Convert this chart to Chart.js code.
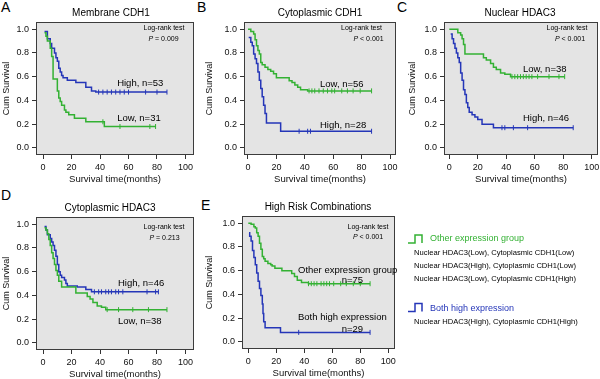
<!DOCTYPE html>
<html>
<head>
<meta charset="utf-8">
<script src="https://cdn.jsdelivr.net/npm/chart.js@4.4.1/dist/chart.umd.min.js"></script>
<style>
    html, body { margin: 0; padding: 0; background: #fff; }
    body { width: 600px; height: 379px; position: relative; overflow: hidden; font-family: "Liberation Sans", Arial, sans-serif; }
    canvas { position: absolute; }
    .tag { position: absolute; font-size: 14px; line-height: 14px; color: #000; }
</style>
</head>
<body>
<div class="tag" style="left:1px;top:0px">A</div>
<div class="tag" style="left:197px;top:0px">B</div>
<div class="tag" style="left:397px;top:0px">C</div>
<div class="tag" style="left:1px;top:188px">D</div>
<div class="tag" style="left:201px;top:198px">E</div>
<canvas id="cA"></canvas>
<canvas id="cB"></canvas>
<canvas id="cC"></canvas>
<canvas id="cD"></canvas>
<canvas id="cE"></canvas>
<script>
// axis ticks
const timeTicks = [0, 20, 40, 60, 80, 100];
const survTicks = [0, 0.2, 0.4, 0.6, 0.8, 1.0];

// A - Membrane CDH1
const aHighT = [1, 3, 5, 6, 8, 9, 10, 11, 12, 13, 14, 17, 23, 30, 34, 37, 87];
const aHighS = [0.98, 0.92, 0.88, 0.84, 0.80, 0.76, 0.73, 0.67, 0.64, 0.61, 0.59, 0.57, 0.55, 0.51, 0.48, 0.47, 0.47];
const aHighCens = [39, 42, 45, 48, 51, 54, 57, 60, 72, 80, 87];
const aLowT = [1, 2, 3, 5, 6, 7, 10, 11, 12, 13, 15, 16, 18, 22, 30, 43, 79];
const aLowS = [0.97, 0.94, 0.90, 0.84, 0.77, 0.58, 0.48, 0.42, 0.39, 0.36, 0.32, 0.30, 0.28, 0.25, 0.22, 0.18, 0.18];
const aLowCens = [42, 54, 75, 79];

// B - Cytoplasmic CDH1
const bLowT = [0, 2, 4, 5, 6, 7, 8, 9, 10, 12, 14, 16, 18, 20, 29, 31, 33, 35, 37, 42, 87];
const bLowS = [1.0, 0.98, 0.96, 0.91, 0.86, 0.82, 0.79, 0.72, 0.70, 0.68, 0.66, 0.645, 0.625, 0.59, 0.565, 0.55, 0.53, 0.51, 0.49, 0.48, 0.48];
const bLowCens = [43, 45, 47, 50, 53, 56, 59, 61, 66, 70, 74, 79, 87];
const bHighT = [0.5, 2, 3, 4, 5, 6, 7, 8, 9, 10, 11, 12, 13, 23, 87];
const bHighS = [0.93, 0.89, 0.86, 0.79, 0.75, 0.71, 0.64, 0.57, 0.50, 0.43, 0.36, 0.29, 0.21, 0.14, 0.14];
const bHighCens = [36, 42, 44, 87];

// C - Nuclear HDAC3
const cLowT = [0, 6, 8, 9, 10, 11, 24, 26, 29, 31, 33, 36, 39, 43, 81];
const cLowS = [1.0, 0.97, 0.95, 0.92, 0.87, 0.79, 0.76, 0.74, 0.71, 0.68, 0.66, 0.63, 0.62, 0.60, 0.60];
const cLowCens = [44, 46, 48, 50, 52, 54, 56, 58, 62, 70, 77, 81];
const cHighT = [1, 2, 3, 4, 5, 6, 7, 8, 9, 10, 11, 12, 13, 14, 16, 18, 20, 23, 31, 87];
const cHighS = [0.96, 0.92, 0.88, 0.84, 0.80, 0.76, 0.72, 0.63, 0.57, 0.49, 0.45, 0.38, 0.34, 0.30, 0.28, 0.26, 0.24, 0.20, 0.17, 0.17];
const cHighCens = [37, 39, 45, 55, 87];

// D - Cytoplasmic HDAC3
const dHighT = [1, 2, 3, 5, 6, 7, 8, 9, 10, 11, 12, 13, 15, 16, 17, 24, 30, 34, 81];
const dHighS = [0.98, 0.95, 0.91, 0.88, 0.85, 0.82, 0.78, 0.73, 0.66, 0.60, 0.57, 0.55, 0.53, 0.50, 0.48, 0.47, 0.45, 0.43, 0.43];
const dHighCens = [36, 39, 41, 44, 46, 48, 51, 53, 56, 73, 79, 81];
const dLowT = [1, 2, 3, 4, 5, 6, 7, 8, 9, 10, 11, 13, 23, 31, 33, 35, 38, 41, 44, 87];
const dLowS = [0.97, 0.95, 0.92, 0.87, 0.82, 0.76, 0.71, 0.66, 0.61, 0.57, 0.52, 0.47, 0.42, 0.39, 0.37, 0.34, 0.31, 0.30, 0.28, 0.28];
const dLowCens = [45, 53, 63, 74, 87];

// E - High Risk Combinations
const eOtherT = [0, 2, 4, 5, 6, 7, 8, 9, 10, 11, 12, 14, 16, 17, 19, 24, 31, 33, 35, 38, 43, 87];
const eOtherS = [1.0, 0.99, 0.97, 0.96, 0.92, 0.89, 0.83, 0.78, 0.72, 0.70, 0.68, 0.66, 0.65, 0.64, 0.62, 0.60, 0.575, 0.55, 0.52, 0.50, 0.49, 0.49];
const eOtherCens = [43, 45, 47, 49, 52, 54, 56, 58, 61, 66, 70, 75, 80, 87];
const eBothT = [0.5, 1, 2, 3, 4, 5, 6, 7, 8, 9, 10, 10.5, 11, 12, 23, 87];
const eBothS = [0.92, 0.89, 0.85, 0.77, 0.71, 0.65, 0.58, 0.51, 0.45, 0.39, 0.32, 0.24, 0.17, 0.12, 0.08, 0.08];
const eBothCens = [36, 87];

const otherGroupRows = ['Nuclear HDAC3(Low), Cytoplasmic CDH1(Low)', 'Nuclear HDAC3(High), Cytoplasmic CDH1(Low)', 'Nuclear HDAC3(Low), Cytoplasmic CDH1(High)'];
const bothGroupRows = ['Nuclear HDAC3(High), Cytoplasmic CDH1(High)'];

const GREEN = '#33b133';
const BLUE = '#2536b8';
const FONT = '"Liberation Sans", Arial, sans-serif';

const panels = [
    {
        id: 'cA', title: 'Membrane CDH1', titleX: 111, box: { l: 36, r: 194, t: 22, b: 155 }, xr: [-5, 106], yOff: 29,
        curves: [[aLowT, aLowS, aLowCens, GREEN], [aHighT, aHighS, aHighCens, BLUE]],
        lr: { x: 164, y: 28, x2: 163.5, y2: 39, p: ' = 0.009' },
        notes: [['High, n=53', 52, 0.546], ['Low, n=31', 52, 0.252]]
    },
    {
        id: 'cB', title: 'Cytoplasmic CDH1', titleX: 320, box: { l: 244, r: 396, t: 22, b: 155 }, xr: [-2.8, 104.2], yOff: 34,
        curves: [[bLowT, bLowS, bLowCens, GREEN], [bHighT, bHighS, bHighCens, BLUE]],
        lr: { x: 361.5, y: 28, x2: 368.5, y2: 39, p: ' < 0.001' },
        notes: [['Low, n=56', 50.7, 0.538], ['High, n=28', 50.7, 0.193]]
    },
    {
        id: 'cC', title: 'Nuclear HDAC3', titleX: 520, box: { l: 444, r: 598, t: 22, b: 155 }, xr: [-3.7, 104.4], yOff: 31,
        curves: [[cLowT, cLowS, cLowCens, GREEN], [cHighT, cHighS, cHighCens, BLUE]],
        lr: { x: 567, y: 28, x2: 570, y2: 39, p: ' < 0.001' },
        notes: [['Low, n=38', 51.7, 0.664], ['High, n=46', 51.7, 0.249]]
    },
    {
        id: 'cD', title: 'Cytoplasmic HDAC3', titleX: 110, box: { l: 36, r: 194, t: 217, b: 350 }, xr: [-5, 106], yOff: 29,
        curves: [[dLowT, dLowS, dLowCens, GREEN], [dHighT, dHighS, dHighCens, BLUE]],
        lr: { x: 164, y: 227, x2: 164.5, y2: 238, p: ' = 0.213' },
        notes: [['High, n=46', 52.6, 0.502], ['Low, n=38', 52.6, 0.178]]
    },
    {
        id: 'cE', title: 'High Risk Combinations', titleX: 318, box: { l: 242, r: 395, t: 216, b: 349 }, xr: [-4.5, 104.8], yOff: 32, padR: 205,
        curves: [[eOtherT, eOtherS, eOtherCens, GREEN], [eBothT, eBothS, eBothCens, BLUE]],
        lr: { x: 368, y: 227, x2: 368, y2: 237, p: ' < 0.001' },
        notes: [['Other expression group', 35.5, 0.605], ['n=75', 66.7, 0.52], ['Both high expression', 35.5, 0.203], ['n=29', 66.7, 0.108]],
        legend: true
    }
];

function stepPoints(t, s) {
    return t.map((v, i) => ({ x: v, y: s[i] }));
}

// survival level of the step curve at time x
function levelAt(t, s, x) {
    let v = s[0];
    for (let i = 0; i < t.length; i++) {
        if (t[i] <= x) v = s[i];
    }
    return v;
}

function censorPoints(t, s, c) {
    return c.map(x => ({ x: x, y: levelAt(t, s, x) }));
}

function stepIcon(ctx, x, b, color) {
    ctx.strokeStyle = color;
    ctx.lineWidth = 1.5;
    ctx.beginPath();
    ctx.moveTo(x, b);
    ctx.lineTo(x + 7, b);
    ctx.lineTo(x + 7, b - 8);
    ctx.lineTo(x + 14, b - 8);
    ctx.lineTo(x + 14, b);
    ctx.stroke();
}

function makeDecor(p, offX, offY) {
    return {
        id: 'decor' + p.id,
        beforeDraw(chart) {
            const { ctx, chartArea: a } = chart;
            ctx.save();
            ctx.fillStyle = '#e4e4e4';
            ctx.fillRect(a.left, a.top, a.right - a.left, a.bottom - a.top);
            ctx.strokeStyle = '#3c3c3c';
            ctx.lineWidth = 1;
            ctx.strokeRect(Math.round(a.left) + 0.5, Math.round(a.top) + 0.5, Math.round(a.right - a.left) - 1, Math.round(a.bottom - a.top) - 1);
            ctx.restore();
        },
        afterDraw(chart) {
            const { ctx, scales } = chart;
            ctx.save();
            ctx.fillStyle = '#000';
            ctx.textBaseline = 'middle';

            // title
            ctx.textAlign = 'center';
            ctx.font = '10px ' + FONT;
            ctx.fillText(p.title, p.titleX - offX, p.box.t - 9 - offY);

            // log-rank box text
            ctx.font = '7px ' + FONT;
            ctx.fillText('Log-rank test', p.lr.x - offX, p.lr.y - offY);
            ctx.font = 'italic 7px ' + FONT;
            const wP = ctx.measureText('P').width;
            ctx.font = '7px ' + FONT;
            const wRest = ctx.measureText(p.lr.p).width;
            const x0 = p.lr.x2 - offX - (wP + wRest) / 2;
            ctx.textAlign = 'left';
            ctx.font = 'italic 7px ' + FONT;
            ctx.fillText('P', x0, p.lr.y2 - offY);
            ctx.font = '7px ' + FONT;
            ctx.fillText(p.lr.p, x0 + wP, p.lr.y2 - offY);

            // curve labels
            ctx.font = '9.5px ' + FONT;
            p.notes.forEach(n => {
                ctx.fillText(n[0], scales.x.getPixelForValue(n[1]), scales.y.getPixelForValue(n[2]));
            });

            // group legend on the right of panel E
            if (p.legend) {
                stepIcon(ctx, 408 - offX, 243 - offY, GREEN);
                ctx.fillStyle = GREEN;
                ctx.font = '9px ' + FONT;
                ctx.fillText('Other expression group', 430 - offX, 238.5 - offY);
                ctx.fillStyle = '#000';
                ctx.font = '7.6px ' + FONT;
                otherGroupRows.forEach((r, i) => ctx.fillText(r, 414 - offX, 253 + i * 13 - offY));
                stepIcon(ctx, 408 - offX, 311.5 - offY, BLUE);
                ctx.fillStyle = BLUE;
                ctx.font = '9px ' + FONT;
                ctx.fillText('Both high expression', 430 - offX, 309 - offY);
                ctx.fillStyle = '#000';
                ctx.font = '7.6px ' + FONT;
                bothGroupRows.forEach((r, i) => ctx.fillText(r, 414 - offX, 322 + i * 13 - offY));
            }
            ctx.restore();
        }
    };
}

panels.forEach(p => {
    const padR = p.padR || 6;
    const left = p.box.l - 40;
    const top = p.box.t - 22;
    const w = p.box.r + padR - left;
    const h = p.box.b + 30 - top;
    const cv = document.getElementById(p.id);
    cv.width = w;
    cv.height = h;
    cv.style.left = left + 'px';
    cv.style.top = top + 'px';
    cv.style.width = w + 'px';
    cv.style.height = h + 'px';

    const datasets = [];
    p.curves.forEach(c => {
        datasets.push({
            data: stepPoints(c[0], c[1]),
            borderColor: c[3],
            borderWidth: 1.5,
            stepped: true,
            pointRadius: 0,
            fill: false
        });
        datasets.push({
            data: censorPoints(c[0], c[1], c[2]),
            showLine: false,
            borderColor: c[3],
            backgroundColor: c[3],
            pointStyle: 'line',
            rotation: 90,
            pointRadius: 2.5,
            pointBorderWidth: 1
        });
    });

    new Chart(cv, {
        type: 'line',
        data: { datasets: datasets },
        options: {
            responsive: false,
            animation: false,
            devicePixelRatio: 1,
            layout: { padding: { left: 0, top: 22, right: padR, bottom: 0 } },
            plugins: { legend: { display: false }, tooltip: { enabled: false } },
            scales: {
                x: {
                    type: 'linear',
                    min: p.xr[0],
                    max: p.xr[1],
                    afterBuildTicks: s => { s.ticks = timeTicks.map(v => ({ value: v })); },
                    afterFit: s => { s.height = 30; },
                    border: { display: false },
                    grid: { drawOnChartArea: false, drawTicks: true, tickLength: 4, color: '#333' },
                    ticks: { padding: 3, color: '#111', font: { family: FONT, size: 9 } },
                    title: { display: true, text: 'Survival time(months)', color: '#111', font: { family: FONT, size: 9.5 }, padding: { top: 0, bottom: 0 } }
                },
                y: {
                    type: 'linear',
                    min: -0.06,
                    max: 1.06,
                    afterBuildTicks: s => { s.ticks = survTicks.map(v => ({ value: v })); },
                    afterFit: s => { s.width = 40; },
                    border: { display: false },
                    grid: { drawOnChartArea: false, drawTicks: true, tickLength: 4, color: '#333' },
                    ticks: { padding: 3, color: '#111', font: { family: FONT, size: 9 }, callback: v => v.toFixed(1) },
                    title: { display: true, text: 'Cum Survival', color: '#111', font: { family: FONT, size: 9 }, padding: { top: 40 - p.yOff - 5.4, bottom: 0 } }
                }
            }
        },
        plugins: [makeDecor(p, left, top)]
    });
});
</script>
</body>
</html>
